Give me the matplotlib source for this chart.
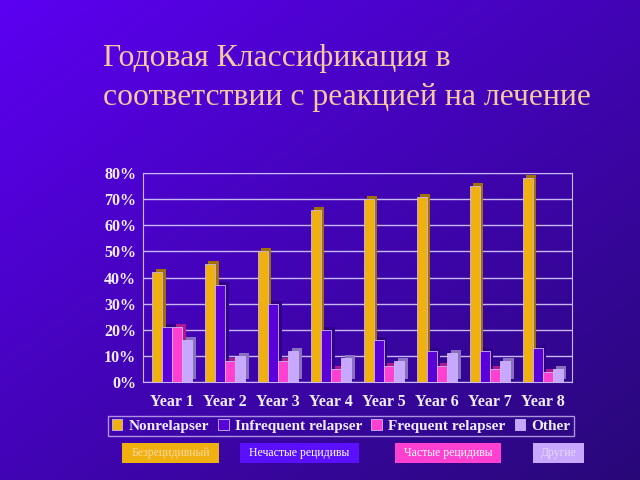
import matplotlib
matplotlib.use("Agg")
import matplotlib.pyplot as plt
import numpy as np
from matplotlib.patches import Rectangle
from matplotlib.transforms import ScaledTranslation

years = ["Year 1", "Year 2", "Year 3", "Year 4", "Year 5", "Year 6", "Year 7", "Year 8"]
series_names = ["Nonrelapser", "Infrequent relapser", "Frequent relapser", "Other"]
nonrelapser = [42, 45, 50, 66, 70, 71, 75, 78]
infrequent = [21, 37, 30, 20, 16, 12, 12, 13]
frequent = [21, 8, 8, 5, 6, 6, 5, 4]
other = [16, 10, 12, 9, 8, 11, 8, 5]
y_ticks = [0, 10, 20, 30, 40, 50, 60, 70, 80]
ru_labels = ["Безрецидивный", "Нечастые рецидивы", "Частые рецидивы", "Другие"]
title = "Годовая Классификация в\nсоответствии с реакцией на лечение"

colors = ["#f0b010", "#5a00d8", "#ff40d0", "#c8a8ff"]
side_colors = ["#a07000", "#30008a", "#b01890", "#8a70c0"]
ru_text_colors = ["#f8d8a0", "#ffffff", "#ffffff", "#e8d8ff"]
grid_color = "#c8b8f0"
serif = ["Liberation Serif", "DejaVu Serif"]

fig = plt.figure(figsize=(6.4, 4.8), dpi=100)

# gradient background
bg = fig.add_axes([0, 0, 1, 1], zorder=-10)
gx, gy = np.meshgrid(np.linspace(0, 1, 200), np.linspace(0, 1, 200))
t = np.clip((gx + gy) / 2.0, 0, 1)
c0 = np.array([0x5c, 0x00, 0xf2]) / 255
c1 = np.array([0x28, 0x08, 0x78]) / 255
img = c0[None, None, :] * (1 - t[..., None]) + c1[None, None, :] * t[..., None]
bg.imshow(img, extent=[0, 1, 0, 1], aspect="auto", origin="upper")
bg.axis("off")

fig.text(103 / 640, 1 - 78 / 480, title, family=serif, fontsize=22.8,
         color="#f5c8a0", ha="left", va="center", linespacing=1.45)

ax = fig.add_axes([143 / 640, 1 - 382 / 480, 429 / 640, 209 / 480])
ax.set_facecolor("none")
x = np.arange(len(years))
width = 0.19
data = [nonrelapser, infrequent, frequent, other]
shift = ScaledTranslation(3.5 / 100, 3 / 100, fig.dpi_scale_trans)
for i, (vals, name) in enumerate(zip(data, series_names)):
    pos = x + (i - 1.5) * width
    back = ax.bar(pos, vals, width, color=side_colors[i], zorder=2)
    for p in back:
        p.set_transform(ax.transData + shift)
    ax.bar(pos, vals, width, color=colors[i], edgecolor=grid_color,
           linewidth=0.6, label=name, zorder=3)

ax.set_xlim(-0.55, len(years) - 0.45)
ax.set_ylim(0, 80)
ax.set_yticks(y_ticks)
ax.set_yticklabels([f"{v}%" for v in y_ticks])
ax.set_xticks(x)
ax.set_xticklabels(years)
ax.yaxis.grid(True, color=grid_color, linewidth=1)
ax.set_axisbelow(True)
ax.tick_params(length=0)
ax.tick_params(axis="x", pad=9)
ax.tick_params(axis="y", pad=5)
for lab in ax.get_xticklabels() + ax.get_yticklabels():
    lab.set_family(serif)
    lab.set_fontweight("bold")
    lab.set_fontsize(11.5)
    lab.set_color("#f0ecff")
for s in ax.spines.values():
    s.set_color(grid_color)

handles, labels = ax.get_legend_handles_labels()
leg = fig.legend(handles, labels, ncol=4, loc="center",
                 bbox_to_anchor=(341 / 640, 1 - 426 / 480),
                 prop={"family": serif, "weight": "bold", "size": 11},
                 frameon=True, fancybox=False, handlelength=0.7,
                 handleheight=0.7, handletextpad=0.4, columnspacing=0.6,
                 borderpad=0.2, labelcolor="#f0ecff")
leg.get_frame().set_facecolor("none")
leg.get_frame().set_edgecolor(grid_color)

# Russian captions
boxes = [(122, 219), (240, 359), (395, 501), (533, 584)]
for (x0, x1), lab, fc, tc in zip(boxes, ru_labels, colors, ru_text_colors):
    fc_box = "#5a10ff" if fc == "#5a00d8" else fc
    fig.patches.append(Rectangle((x0 / 640, 1 - 463 / 480), (x1 - x0) / 640, 20 / 480,
                                 transform=fig.transFigure, facecolor=fc_box,
                                 edgecolor="none", zorder=1))
    fig.text((x0 + x1) / 2 / 640, 1 - 453 / 480, lab, family=serif, fontsize=8.5,
             color=tc, ha="center", va="center")

fig.savefig("out.png", dpi=100)
